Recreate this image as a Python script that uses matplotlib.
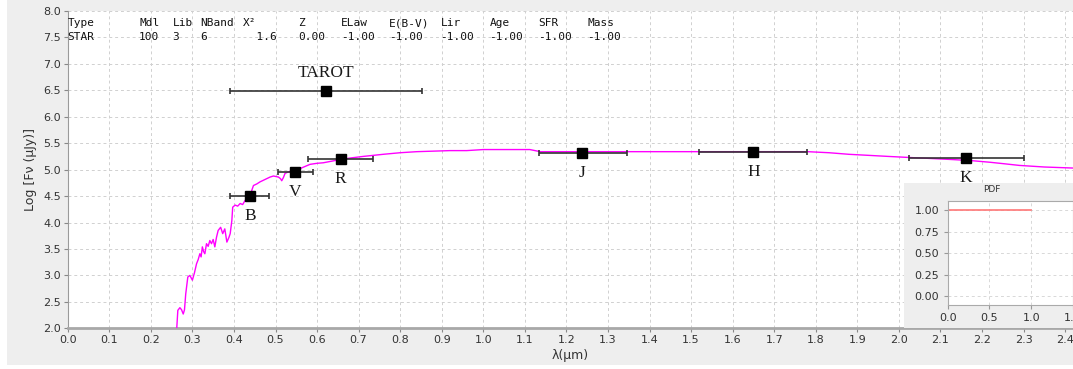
import matplotlib
matplotlib.use("Agg")
import matplotlib.pyplot as plt
from matplotlib.patches import Rectangle
import numpy as np

# ---------------- data ----------------
sed_wl = [0.262, 0.265, 0.270, 0.274, 0.278, 0.281, 0.284, 0.289, 0.294, 0.300,
          0.305, 0.310, 0.314, 0.318, 0.321, 0.324, 0.327, 0.330, 0.334, 0.338,
          0.342, 0.346, 0.350, 0.354, 0.358, 0.362, 0.368, 0.373, 0.378, 0.383,
          0.388, 0.391, 0.395, 0.397, 0.403, 0.409, 0.415, 0.421, 0.427, 0.431,
          0.435, 0.440, 0.443, 0.447, 0.455, 0.463, 0.471, 0.479, 0.487, 0.495,
          0.501, 0.507, 0.512, 0.515, 0.519, 0.523, 0.535, 0.551, 0.565, 0.583,
          0.600, 0.615, 0.635, 0.655, 0.680, 0.711, 0.735, 0.759, 0.800, 0.840,
          0.880, 0.920, 0.960, 1.000, 1.060, 1.112, 1.137, 1.200, 1.300, 1.400,
          1.515, 1.600, 1.700, 1.780, 1.832, 1.880, 1.928, 1.975, 2.025, 2.080,
          2.131, 2.175, 2.219, 2.255, 2.290, 2.350, 2.420]
sed_logf = [1.95, 2.34, 2.39, 2.35, 2.27, 2.35, 2.65, 2.97, 3.00, 2.91,
            3.05, 3.22, 3.30, 3.41, 3.35, 3.54, 3.45, 3.41, 3.60, 3.55,
            3.66, 3.60, 3.68, 3.54, 3.72, 3.85, 3.91, 3.79, 3.88, 3.63,
            3.72, 3.79, 4.04, 4.29, 4.33, 4.31, 4.36, 4.34, 4.42, 4.40,
            4.48, 4.50, 4.61, 4.70, 4.73, 4.77, 4.80, 4.83, 4.86, 4.88,
            4.87, 4.86, 4.83, 4.79, 4.85, 4.93, 4.97, 4.99, 5.04, 5.10,
            5.12, 5.13, 5.16, 5.19, 5.22, 5.25, 5.27, 5.29, 5.32, 5.34,
            5.35, 5.36, 5.36, 5.38, 5.38, 5.38, 5.34, 5.34, 5.34, 5.34,
            5.34, 5.34, 5.34, 5.34, 5.32, 5.29, 5.27, 5.25, 5.23, 5.21,
            5.19, 5.17, 5.14, 5.11, 5.08, 5.05, 5.03]

bands = ["TAROT", "B", "V", "R", "J", "H", "K"]
band_wl = [0.621, 0.439, 0.547, 0.657, 1.238, 1.650, 2.161]
band_logf = [6.48, 4.50, 4.96, 5.20, 5.32, 5.34, 5.22]
band_lo = [0.390, 0.390, 0.505, 0.579, 1.133, 1.518, 2.025]
band_hi = [0.853, 0.485, 0.591, 0.734, 1.345, 1.779, 2.302]

header_cols = ["Type", "Mdl", "Lib", "NBand", "X²", "Z", "ELaw", "E(B-V)", "Lir", "Age", "SFR", "Mass"]
header_vals = ["STAR", "100", "3", "6", "  1.6", "0.00", "-1.00", "-1.00", "-1.00", "-1.00", "-1.00", "-1.00"]

pdf_x = [0.0, 1.0]
pdf_y = [1.0, 1.0]

# ---------------- figure ----------------
W, H = 1073, 369
fig = plt.figure(figsize=(W / 100, H / 100), dpi=100)
fig.patch.set_facecolor("white")
fig.patches.append(Rectangle((7 / W, 4 / H), 1 - 7 / W, 1 - 4 / H, transform=fig.transFigure,
                             facecolor="#eeeeee", edgecolor="none", zorder=-10))

def fx(px):
    return px / W

def fy(py):
    return 1 - py / H

ax = fig.add_axes([fx(67.7), fy(328.3), 1 - fx(67.7), fy(11) - fy(328.3)])
ax.set_facecolor("white")
ax.set_xlim(0, (W - 67.7) / 415.6)
ax.set_ylim(2.0, 8.0)
ax.set_xticks(np.arange(0, 25) / 10)
ax.set_yticks(np.arange(4, 17) / 2)
ax.xaxis.set_major_formatter(matplotlib.ticker.FormatStrFormatter("%.1f"))
ax.yaxis.set_major_formatter(matplotlib.ticker.FormatStrFormatter("%.1f"))
ax.grid(True, color="#d0d0d0", linestyle=(0, (3, 3)), linewidth=0.7)
ax.set_axisbelow(True)
for s in ["top", "right"]:
    ax.spines[s].set_visible(False)
ax.spines["left"].set_color("#9a9a9a")
ax.spines["bottom"].set_color("#a8a8a8")
ax.spines["bottom"].set_linewidth(2)
ax.tick_params(axis="both", colors="#888888", labelcolor="#333333", labelsize=8,
               length=3, width=0.8, pad=2)
ax.set_ylabel("Log [Fν (μJy)]", fontsize=9, color="#333333", labelpad=4)
ax.set_xlabel("λ(μm)", fontsize=9, color="#333333", labelpad=3)

ax.plot(sed_wl, sed_logf, color="#ff00ff", linewidth=1.0, zorder=3)

for name, x, y, lo, hi in zip(bands, band_wl, band_logf, band_lo, band_hi):
    ax.errorbar([x], [y], xerr=[[x - lo], [hi - x]], fmt="s", color="black",
                ecolor="#333333", elinewidth=1.2, capsize=2.5, capthick=1.2,
                markersize=6.5, zorder=4)
    off = 18 if name == "TAROT" else -20
    ax.annotate(name, (x, y), xytext=(0, off), textcoords="offset pixels",
                ha="center", va="center", fontsize=12.5, family="Liberation Serif",
                color="#1a1a1a", zorder=5)

col_x = [67.5, 139, 172.5, 200.5, 243, 298, 341, 389, 440.5, 489.5, 538.5, 587]
for cx, c, v in zip(col_x, header_cols, header_vals):
    fig.text(fx(cx), fy(23), c, family="DejaVu Sans Mono", fontsize=8, va="center",
             ha="left", color="#111111")
    fig.text(fx(cx), fy(37.5), v, family="DejaVu Sans Mono", fontsize=8, va="center",
             ha="left", color="#111111")

# ---------------- inset ----------------
panel = fig.add_axes([fx(904), fy(328.3), 1 - fx(904), fy(182.7) - fy(328.3)])
panel.set_facecolor("#eeeeee")
panel.set_xticks([])
panel.set_yticks([])
for s in panel.spines.values():
    s.set_visible(False)
panel.set_zorder(6)

ins = fig.add_axes([fx(947.7), fy(305), 1 - fx(947.7), fy(200.7) - fy(305)])
ins.set_zorder(7)
ins.set_facecolor("white")
ins.set_xlim(0, 1.5)
ins.set_ylim(-0.105, 1.11)
ins.set_xticks([0.0, 0.5, 1.0, 1.5])
ins.set_yticks([0.0, 0.25, 0.5, 0.75, 1.0])
ins.xaxis.set_major_formatter(matplotlib.ticker.FormatStrFormatter("%.1f"))
ins.yaxis.set_major_formatter(matplotlib.ticker.FormatStrFormatter("%.2f"))
ins.grid(True, color="#d8d8d8", linestyle=(0, (3, 3)), linewidth=0.7)
ins.set_axisbelow(True)
for s in ins.spines.values():
    s.set_color("#aaaaaa")
ins.tick_params(axis="both", colors="#999999", labelcolor="#333333", labelsize=8,
                length=3, width=0.8, pad=3)
ins.plot(pdf_x, pdf_y, color="#ff7777", linewidth=1.2)
fig.text(fx(992), fy(189), "PDF", fontsize=6.5, ha="center", va="center", color="#333333", zorder=10)

fig.savefig("out.png", dpi=100)
